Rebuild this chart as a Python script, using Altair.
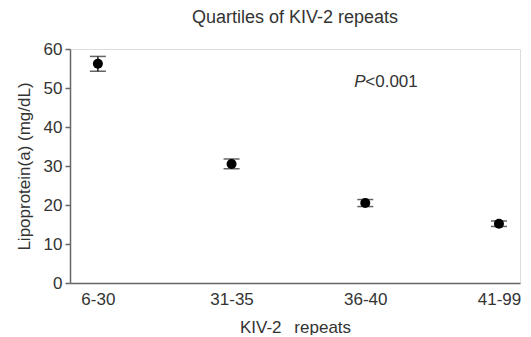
import altair as alt
import pandas as pd

categories = ["6-30", "31-35", "36-40", "41-99"]
means = [56.2, 30.5, 20.5, 15.2]
lows = [54.3, 29.3, 19.6, 14.5]
highs = [58.1, 31.8, 21.4, 15.9]
y_ticks = [0, 10, 20, 30, 40, 50, 60]

annot_cat = ["36-40"]
annot_y = [51.5]

df = pd.DataFrame({"cat": categories, "mean": means, "lo": lows, "hi": highs})
ann = pd.DataFrame({"cat": annot_cat, "y": annot_y})

FONT = "Liberation Sans"
TXT = "#333333"

x_axis = alt.Axis(
    title="KIV-2\u00a0\u00a0\u2009repeats",
    labelAngle=0,
    ticks=False,
    labelPadding=8,
    titlePadding=12,
    domainColor="#666666",
    domainWidth=1.5,
    labelFontSize=17,
    titleFontSize=17,
    labelColor=TXT,
    titleColor=TXT,
    labelFont=FONT,
    titleFont=FONT,
    titleFontWeight="normal",
)
x_scale = alt.Scale(type="point", padding=0.183, align=0.57)

y_scale = alt.Scale(domain=[0, 60])
y_axis = alt.Axis(
    title="Lipoprotein(a) (mg/dL)",
    values=y_ticks,
    labelOverlap=False,
    grid=False,
    tickSize=5,
    tickWidth=1.5,
    tickColor="#666666",
    labelPadding=3,
    titlePadding=10,
    domainColor="#666666",
    domainWidth=1.5,
    labelFontSize=17,
    titleFontSize=17,
    labelColor=TXT,
    titleColor=TXT,
    labelFont=FONT,
    titleFont=FONT,
    titleFontWeight="normal",
)


def X():
    return alt.X("cat:N", sort=categories, scale=x_scale, axis=x_axis)


def Y(field):
    return alt.Y(field, scale=y_scale, axis=y_axis)


base = alt.Chart(df)

rules = base.mark_rule(color="#222222", strokeWidth=1.5).encode(
    x=X(), y=Y("lo:Q"), y2="hi:Q"
)
cap_lo = base.mark_tick(color="#222222", orient="horizontal", size=16, thickness=1.5).encode(
    x=X(), y=Y("lo:Q")
)
cap_hi = base.mark_tick(color="#222222", orient="horizontal", size=16, thickness=1.5).encode(
    x=X(), y=Y("hi:Q")
)
points = base.mark_circle(size=100, color="#000000", opacity=1).encode(
    x=X(), y=Y("mean:Q")
)

p_text = alt.Chart(ann).mark_text(
    text="P", fontStyle="italic", fontSize=17, font=FONT, color=TXT,
    align="left", baseline="middle", dx=-11,
).encode(x=X(), y=Y("y:Q"))
p_val = alt.Chart(ann).mark_text(
    text="<0.001", fontSize=17, font=FONT, color=TXT,
    align="left", baseline="middle", dx=0,
).encode(x=X(), y=Y("y:Q"))

chart = (
    alt.layer(rules, cap_lo, cap_hi, points, p_text, p_val)
    .properties(
        width=450,
        height=234,
        title=alt.TitleParams(
            "Quartiles of KIV-2 repeats",
            fontSize=18,
            font=FONT,
            color=TXT,
            fontWeight="normal",
            anchor="middle",
            offset=13,
        ),
        padding={"left": 7, "top": 1, "right": 0, "bottom": 0},
    )
    .configure_view(stroke=None)
    .configure(background="white")
)

chart.save("out.html", embed_options={"renderer": "svg", "actions": False})
